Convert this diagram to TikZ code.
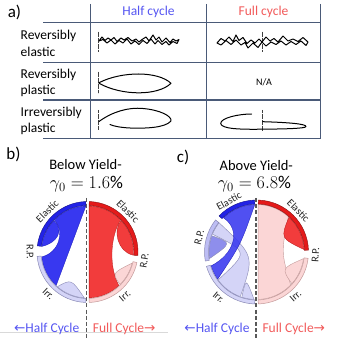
\documentclass[tikz,border=0pt]{standalone}
\usepackage{fix-cm}
\usepackage{fontspec}
\setmainfont{Carlito}
\newfontfamily\arrowfont{DejaVu Sans}
\definecolor{tbl}{HTML}{4A5A78}
\definecolor{hblue}{HTML}{5656F2}
\definecolor{fred}{HTML}{F25A5A}
\definecolor{bdark}{HTML}{2222E6}
\definecolor{bfill}{HTML}{3838F0}
\definecolor{lav}{HTML}{D4D4F7}
\definecolor{lavline}{HTML}{8A8AB6}
\definecolor{rpring}{HTML}{BDBDF4}
\definecolor{rpblue}{HTML}{8E8EEC}
\definecolor{rdark}{HTML}{E41A1A}
\definecolor{rfill}{HTML}{F23C3C}
\definecolor{pinkf}{HTML}{FBD6D6}
\definecolor{pinkline}{HTML}{C49A9A}
\newcommand\ringseg[5]{\path[#5] (#1:#4) arc[start angle=#1,end angle=#2,radius=#4] -- (#2:#3) arc[start angle=#2,end angle=#1,radius=#3] -- cycle;}
\newcommand\mkchord[8]{\path[#8] (#1:#7) arc[start angle=#1,end angle=#2,radius=#7] .. controls #3 .. (#4:#7) arc[start angle=#4,end angle=#5,radius=#7] .. controls #6 .. (#1:#7) -- cycle;}
\newcommand\selfchord[5]{\path[#5] (#1:#4) arc[start angle=#1,end angle=#2,radius=#4] .. controls #3 .. (#1:#4) -- cycle;}
\begin{document}
\begin{tikzpicture}[x=1pt,y=1pt,
  tline/.style={draw=tbl,line width=1.3pt},
  glyph/.style={draw=black,line width=1pt,line join=round,line cap=round},
  dotv/.style={draw=black!75,line width=0.7pt,dash pattern=on 0.6pt off 0.6pt},
  clbl/.style={font=\fontsize{10.5}{10.5}\selectfont,inner sep=0pt,text=black!85},
  rowlbl/.style={font=\fontsize{13.5}{16.5}\selectfont,align=left,anchor=west,inner sep=0pt},
  hdr/.style={font=\fontsize{13.5}{13.5}\selectfont,inner sep=0pt},
  panel/.style={font=\fontsize{17}{17}\selectfont,inner sep=0pt},
  ttl/.style={font=\fontsize{14.5}{14.5}\selectfont,inner sep=0pt},
  mttl/.style={font=\fontsize{18}{18}\selectfont,inner sep=0pt},
  bot/.style={font=\fontsize{13.5}{13.5}\selectfont,inner sep=0pt},
  divider/.style={draw=black!65,line width=1.1pt,dash pattern=on 4pt off 2.2pt},
  ringE/.style={fill=bdark,draw=bdark!60!black,line width=0.4pt},
  ringI/.style={fill=lav,draw=lavline,line width=0.5pt},
  ringRP/.style={fill=rpring,draw=lavline,line width=0.5pt},
  ringRE/.style={fill=rdark,draw=rdark!60!black,line width=0.4pt},
  ringRI/.style={fill=pinkf,draw=pinkline,line width=0.5pt},
  chB/.style={fill=bfill,draw=bdark!80!black,line width=0.3pt},
  chL/.style={fill=lav,draw=lavline,line width=0.4pt},
  chR/.style={fill=rfill,draw=rdark!80!black,line width=0.3pt},
  chP/.style={fill=pinkf,draw=pinkline,line width=0.4pt}]
\useasboundingbox (0,0) rectangle (338,341);
\fill[white] (0,0) rectangle (338,341);
% ---------- table ----------
\foreach \yy in {318.3,278.5,241,202.3} \draw[tline] (43,\yy) -- (320.7,\yy);
\foreach \xx in {90.7,206.3,320.7} \draw[tline] (\xx,337) -- (\xx,202.3);
\node[panel] (pa) at (14.5,328.5) {a)};
\node[hdr,text=hblue] (hh) at (148.5,329.3) {Half cycle};
\node[hdr,text=fred] (hf) at (263.5,329.3) {Full cycle};
\node[rowlbl] (r1) at (20.5,297.5) {Reversibly\\elastic};
\node[rowlbl] (r2) at (20.5,258) {Reversibly\\plastic};
\node[rowlbl] (r3) at (20.5,220) {Irreversibly\\plastic};
\node[font=\fontsize{10}{10}\selectfont,inner sep=0pt] (na) at (264,259) {N/A};
% glyphs
\draw[dotv] (98.5,309.3) -- (98.5,289.3);
\draw[glyph] (99,300)--(102,304)--(105,300.5)--(108,303)--(111,301)--(114,303.5)--(117,299.5)--(121,303)--(124,301)--(128,303.5)--(132,300)--(136,302)--(139,299)--(142,301.5)--(146,304)--(149,300)--(153,306)--(156,301)--(159,304)--(162,299)--(166,303)--(170,298.5)--(173,302)--(176,300)--(179,301.5)--(177,297.5)--(173,299.5)--(169,296)--(166,299.5)--(162,296.5)--(158,300.5)--(155,297)--(151,302)--(147,297.5)--(143,300.5)--(139,296.5)--(135,300)--(131,297)--(127,302)--(123,298)--(119,300.5)--(115,297)--(111,301)--(107,298)--(103,301.5)--cycle;
\draw[dotv] (262.5,309.3) -- (262.5,289.3);
\draw[glyph] (217,298)--(221,302.5)--(225,300)--(229,304)--(233,299.5)--(236,306)--(239,300.5)--(243,303.5)--(247,297.5)--(251,301)--(255,298)--(259,302)--(262,299)--(266,304)--(270,300)--(274,302.5)--(278,299)--(283,305)--(288,300)--(293,302)--(298,299.5)--(303,303.5)--(308,299)--(306,295.5)--(301,300)--(296,296.5)--(291,299.5)--(286,296)--(281,300)--(276,296.5)--(271,299)--(266,295)--(262,299)--(258,293.5)--(253,298)--(248,293)--(245,298.5)--(241,296)--(236,301)--(231,296.5)--(226,300.5)--(221,296)--cycle;
\draw[dotv] (98.3,269.3) -- (98.3,247.7);
\draw[glyph] (99,258.3) .. controls (122,270) and (158,270) .. (171,257.7) .. controls (158,245) and (122,245) .. (99,257.7);
\draw[dotv] (98.3,231) -- (98.3,211);
\draw[glyph] (99,219.5) .. controls (112,229) and (128,234) .. (143,232.5) .. controls (160,231) and (172,225) .. (171,220) .. controls (165,213) and (145,212.5) .. (130,213) .. controls (120,213.5) and (113,215) .. (110,216.5);
\draw[dotv] (262.7,231) -- (262.7,210.3);
\draw[glyph] (251.7,227) .. controls (238,227) and (221,223) .. (220.7,217.7) .. controls (221,212) and (240,211.5) .. (262,211.8) .. controls (285,212) and (306,212.5) .. (306,214.5) .. controls (306,217) and (290,218.5) .. (262.7,219.3);
% ---------- panel b ----------
\node[panel] (pb) at (13.5,187) {b)};
\node[ttl] (tb1) at (85.5,176) {Below Yield-};
\node[mttl] (tb2) at (86.5,157) {$\gamma_0 = 1.6\%$};
\draw[black!15,line width=0.6pt] (0,8.3) -- (168,8.3);
\begin{scope}[shift={(87.5,89)}]
  % left half
  \path[chB] (92:46pt) arc[start angle=92,end angle=136,radius=46pt] .. controls (-22,20) and (-29,-1) .. (186:46pt) arc[start angle=186,end angle=227,radius=46pt] .. controls (-15.9,5.9) .. (92:46pt) -- cycle;
  \path[chB] (137:46pt) arc[start angle=137,end angle=173,radius=46pt] .. controls (-30,9) and (-23,22) .. (137:46pt) -- cycle;
  \selfchord{229}{266}{(-16.1,-26.9)}{46pt}{chL}
  \ringseg{92}{173}{46.5pt}{50.5pt}{ringE}
  \ringseg{185}{268}{46.5pt}{50.5pt}{ringI}
  % right half
  \path[chR] (44:46pt) arc[start angle=44,end angle=88,radius=46pt] .. controls (1.6,0) .. (-88:46pt) arc[start angle=-88,end angle=-47,radius=46pt] .. controls (20,-12) and (24,18) .. (44:46pt) -- cycle;
  \path[chR] (-4:46pt) arc[start angle=-4,end angle=43,radius=46pt] .. controls (25,22) and (30,0) .. (-4:46pt) -- cycle;
  \selfchord{-45}{-14}{(24.5,-21.1)}{46pt}{chP}
  \ringseg{-4}{88}{46.5pt}{50.5pt}{ringRE}
  \ringseg{-88}{-12}{46.5pt}{50.5pt}{ringRI}
  \node[clbl,rotate=44.6] (bEL) at (134.6:57.5pt) {Elastic};
  \node[clbl,rotate=-89] (bRL) at (180:57.5pt) {R.P.};
  \node[clbl,rotate=-43] (bIL) at (227:57.5pt) {Irr.};
  \node[clbl,rotate=-44.7] (bER) at (45.3:57.5pt) {Elastic};
  \node[clbl,rotate=81] (bRR) at (-9:57.5pt) {R.P.};
  \node[clbl,rotate=40.4] (bIR) at (-49.6:57.5pt) {Irr.};
\end{scope}
\draw[divider] (86.5,143) -- (86.5,3);
\node[bot,text=hblue] (bh) at (46.7,12) {{\arrowfont ←}Half Cycle};
\node[bot,text=fred] (bf) at (124.2,12) {Full Cycle{\arrowfont →}};
% ---------- panel c ----------
\node[panel] (pc) at (183,184) {c)};
\node[ttl] (tc1) at (256.3,175) {Above Yield-};
\node[mttl] (tc2) at (254.5,157) {$\gamma_0 = 6.8\%$};
\begin{scope}[shift={(256.5,89)}]
  % left half
  \mkchord{142}{158}{(-8,0)}{216}{250}{(-2,-4)}{47.5pt}{chL}
  \selfchord{160}{188}{(-24.5,9.1)}{47.5pt}{fill=rpblue,draw=lavline,line width=0.4pt}
  \selfchord{252}{267}{(-10.5,-25.9)}{47.5pt}{chL}
  \path[fill=bfill,fill opacity=0.88,draw=bdark!80!black,line width=0.3pt] (92:47.5pt) arc[start angle=92,end angle=134,radius=47.5pt] .. controls (-15,22) and (-22,-2) .. (197:47.5pt) arc[start angle=197,end angle=215,radius=47.5pt] .. controls (-15.9,7.2) .. (92:47.5pt) -- cycle;
  \ringseg{92}{136}{48pt}{52pt}{ringE}
  \ringseg{142}{190}{48pt}{52pt}{ringRP}
  \ringseg{196}{268}{48pt}{52pt}{ringI}
  % right half
  \mkchord{48}{88}{(1.6,0)}{-88}{-44}{(24.7,-0.4)}{47.5pt}{chP}
  \selfchord{3}{47}{(24,13.8)}{47.5pt}{chR}
  \selfchord{-42}{-8}{(24.9,-16.3)}{47.5pt}{chP}
  \ringseg{2}{88}{48pt}{52pt}{ringRE}
  \ringseg{-88}{-7}{48pt}{52pt}{ringRI}
  \node[clbl,rotate=28.5] (cEL) at (118.5:58pt) {Elastic};
  \node[clbl,rotate=76] (cRL) at (166:59pt) {R.P.};
  \node[clbl,rotate=-40] (cIL) at (230:59pt) {Irr.};
  \node[clbl,rotate=-45.3] (cER) at (44.7:59pt) {Elastic};
  \node[clbl,rotate=87] (cRR) at (-3:59pt) {R.P.};
  \node[clbl,rotate=41.4] (cIR) at (-48.6:59pt) {Irr.};
\end{scope}
\draw[divider] (256,143) -- (256,3);
\node[bot,text=hblue] (ch) at (217,12) {{\arrowfont ←}Half Cycle};
\node[bot,text=fred] (cf) at (293.8,12) {Full Cycle{\arrowfont →}};
\end{tikzpicture}
\end{document}
